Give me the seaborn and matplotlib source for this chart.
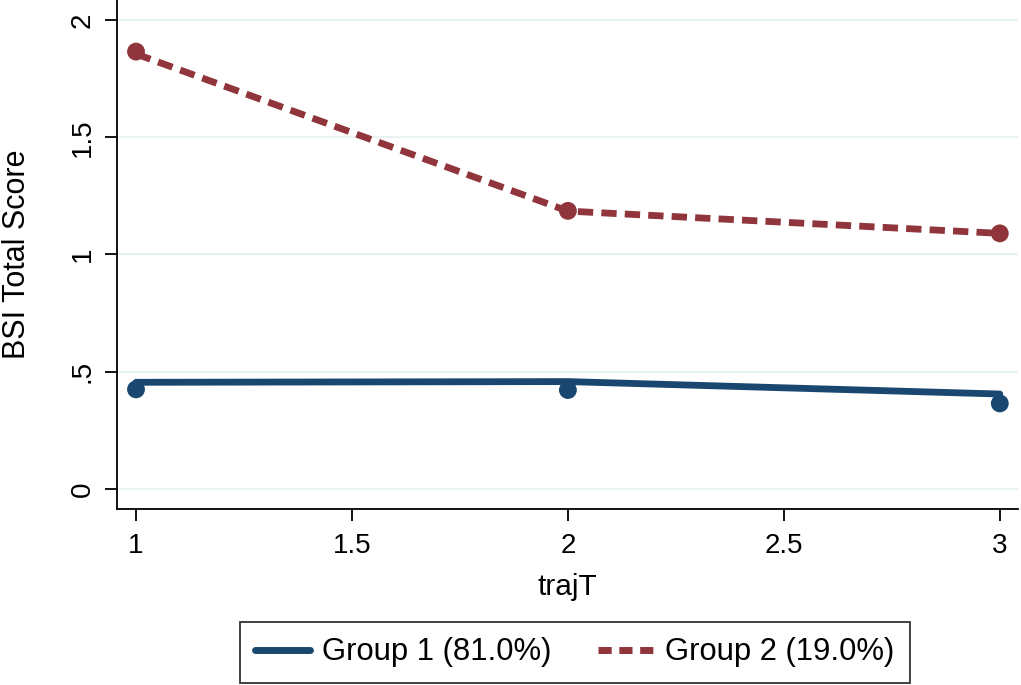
import numpy as np
import pandas as pd
import matplotlib.pyplot as plt
from matplotlib.lines import Line2D
import seaborn as sns

# ---- data ----
traj_t = [1, 2, 3]
group_labels = ['Group 1 (81.0%)', 'Group 2 (19.0%)']
pred_g1 = [0.455, 0.458, 0.405]   # fitted trajectory
obs_g1 = [0.425, 0.422, 0.365]    # observed means
pred_g2 = [1.855, 1.185, 1.090]
obs_g2 = [1.865, 1.186, 1.090]

y_ticks = [0, 0.5, 1, 1.5, 2]
y_tick_labels = ['0', '.5', '1', '1.5', '2']
x_ticks = [1, 1.5, 2, 2.5, 3]
x_tick_labels = ['1', '1.5', '2', '2.5', '3']

colors = {group_labels[0]: '#1a476f', group_labels[1]: '#90353b'}

df_pred = pd.DataFrame({
    'trajT': traj_t * 2,
    'score': pred_g1 + pred_g2,
    'group': [group_labels[0]] * 3 + [group_labels[1]] * 3,
})
df_obs = pd.DataFrame({
    'trajT': traj_t * 2,
    'score': obs_g1 + obs_g2,
    'group': [group_labels[0]] * 3 + [group_labels[1]] * 3,
})

# ---- style ----
sns.set_theme(style='white')
plt.rcParams['font.family'] = ['Liberation Sans', 'DejaVu Sans']
plt.rcParams['text.color'] = 'black'

fig = plt.figure(figsize=(10.21, 6.85), dpi=100)
ax = fig.add_axes([0.1146, 0.257, 0.8824, 0.743])

dash = (2.25, 1.2)
sns.lineplot(data=df_pred, x='trajT', y='score', hue='group', style='group',
             palette=colors, dashes={group_labels[0]: '', group_labels[1]: dash},
             linewidth=4.9, ax=ax, legend=False, zorder=3)
sns.scatterplot(data=df_obs, x='trajT', y='score', hue='group', palette=colors,
                s=165, linewidth=0, ax=ax, legend=False, zorder=4)

ax.set_xlim(0.956, 3.042)
ax.set_ylim(-0.085, 2.085)
ax.set_yticks(y_ticks)
ax.set_yticklabels(y_tick_labels, rotation=90, va='center')
ax.set_xticks(x_ticks)
ax.set_xticklabels(x_tick_labels)

ax.yaxis.grid(True, color='#eaf2f3', linewidth=1.6)
ax.xaxis.grid(False)
ax.set_axisbelow(True)

for side in ['top', 'right']:
    ax.spines[side].set_visible(False)
for side in ['left', 'bottom']:
    ax.spines[side].set_color('black')
    ax.spines[side].set_linewidth(1.3)

ax.tick_params(axis='both', which='major', direction='out', length=8.5, width=1.3,
               color='black', labelsize=20, labelcolor='black', pad=7,
               left=True, bottom=True)
ax.tick_params(axis='x', pad=9)

ax.set_xlabel('trajT', fontsize=21.5, color='black', labelpad=10)
ax.set_ylabel('BSI Total Score', fontsize=22, color='black', labelpad=27)

handles = [
    Line2D([0], [0], color=colors[group_labels[0]], linewidth=5),
    Line2D([0], [0], color=colors[group_labels[1]], linewidth=5, dashes=(1.9, 1.1)),
]
leg = fig.legend(handles, group_labels, loc='center', bbox_to_anchor=(0.563, 0.0475),
                 ncol=2, fontsize=22.3, frameon=True, fancybox=False,
                 handlelength=1.77, columnspacing=1.5, handletextpad=0.4,
                 borderpad=0.5, borderaxespad=0, labelcolor='black')
leg.get_frame().set_edgecolor('black')
leg.get_frame().set_linewidth(1.3)

fig.savefig('out.png', dpi=100)
